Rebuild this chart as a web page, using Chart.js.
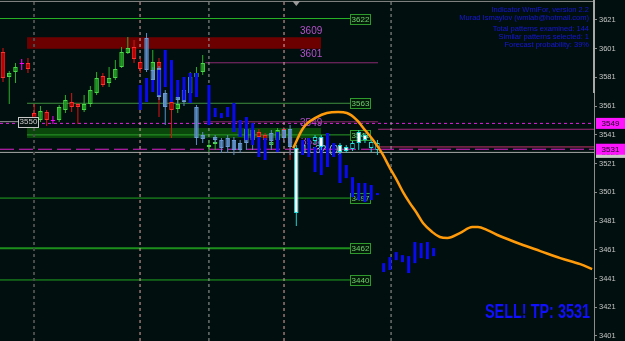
<!DOCTYPE html>
<html><head><meta charset="utf-8">
<script src="https://cdn.jsdelivr.net/npm/chart.js@4.4.1/dist/chart.umd.min.js"></script>
<style>html,body{margin:0;padding:0;background:#01100e;overflow:hidden}</style>
</head><body><canvas id="c" width="625" height="341"></canvas>
<script>
// ---------- DATA ----------
const yTicks = [3401,3421,3441,3461,3481,3501,3521,3541,3561,3581,3601,3621];
// real candles: [index, open, high, low, close]
const realCandles = [
[0,3598.7,3601.5,3577.8,3580.6],[1,3581.3,3585.5,3562.5,3584.1],[2,3584.8,3591.0,3577.1,3588.2],
[3,3590.3,3593.8,3586.2,3590.3],[4,3591.0,3594.5,3584.1,3586.8],[5,3556.2,3562.5,3549.9,3552.0],
[6,3551.3,3561.1,3549.9,3557.6],[7,3556.9,3558.3,3547.2,3551.3],[8,3550.6,3554.1,3548.5,3550.6],
[9,3551.3,3561.8,3549.9,3560.4],[10,3558.3,3568.7,3556.2,3565.3],[11,3563.9,3570.1,3556.9,3560.4],
[12,3562.5,3563.2,3548.5,3560.4],[13,3558.3,3568.7,3556.9,3562.5],[14,3562.5,3575.0,3560.4,3572.2],
[15,3570.1,3584.8,3568.7,3580.6],[16,3582.0,3584.1,3574.3,3575.7],[17,3577.1,3588.2,3574.3,3580.6],
[18,3580.6,3593.1,3579.2,3586.8],[19,3588.2,3602.2,3587.5,3598.7],[20,3598.0,3609.1,3597.3,3601.5],
[21,3602.2,3607.0,3591.0,3593.8],[22,3591.7,3594.5,3584.1,3586.8],[24,3585.5,3600.1,3581.3,3591.7],
[25,3591.7,3594.5,3553.4,3586.2],[27,3563.9,3565.3,3538.8,3558.3],[28,3559.0,3565.3,3556.2,3562.5],
[30,3570.1,3584.8,3566.6,3581.3],[31,3581.3,3588.2,3577.1,3584.1],[32,3584.8,3596.6,3582.7,3591.0],
[33,3532.5,3537.4,3529.0,3533.9],[34,3534.6,3537.4,3530.4,3536.0],[39,3540.9,3546.5,3538.8,3545.1],
[41,3543.0,3545.1,3536.0,3539.5],[42,3540.9,3542.3,3534.6,3537.4],[43,3533.9,3538.1,3531.8,3536.0],
[44,3537.4,3545.8,3535.3,3544.4],[45,3545.1,3546.5,3536.7,3539.5],[46,3539.5,3545.1,3523.5,3535.3]
];
// similar-pattern candles: [index, bodyTop, bodyBottom, high, low]
const patternCandles = [
[23,3608.4,3586.2,3611.9,3584.8],[24,3586.2,3579.2,3588.0,3577.1],[25,3587.5,3567.3,3589.0,3565.3],
[26,3570.1,3560.4,3572.2,3547.8],[28,3567.3,3565.3,3570.1,3562.5],[29,3572.2,3563.9,3575.0,3561.1],
[31,3560.4,3538.8,3561.8,3533.9],[32,3540.9,3538.1,3543.0,3535.3],[34,3539.5,3537.4,3540.9,3535.3],
[35,3537.4,3531.8,3538.8,3528.3],[36,3538.8,3532.5,3540.9,3528.3],[37,3537.4,3530.4,3539.5,3527.0],
[38,3535.3,3530.4,3537.4,3528.3],[39,3540.9,3535.3,3543.0,3530.4],[40,3544.4,3537.4,3545.8,3530.4],
[43,3542.3,3536.7,3544.4,3530.4],[45,3544.4,3538.8,3545.8,3536.0],[46,3545.1,3532.5,3547.8,3527.0]
];
// forecast bars: [index, high, low]
const forecastBars = [
[22,3575.7,3558.3],[23,3580.6,3563.9],[24,3579.2,3570.8],[25,3586.2,3568.7],[26,3600.1,3574.3],
[27,3593.1,3563.9],[28,3579.2,3567.3],[29,3581.3,3565.3],[30,3584.1,3563.2],[31,3584.1,3567.3],
[33,3575.7,3547.8],[34,3559.7,3553.4],[35,3556.2,3552.7],[36,3560.4,3553.4],[37,3563.2,3543.0],
[38,3551.3,3539.5],[39,3553.4,3537.4],[40,3549.2,3533.9],[41,3539.5,3525.6],[42,3538.8,3523.5],
[44,3543.0,3529.0],[48,3537.4,3527.0],[49,3538.8,3525.6],[50,3532.5,3515.1],[51,3538.8,3513.0],
[52,3542.3,3518.6],[53,3535.3,3525.6],[54,3528.3,3507.5],[55,3520.0,3510.9],[56,3511.6,3497.7],
[57,3507.5,3495.6],[58,3507.5,3494.2],[59,3506.1,3495.6],[60,3500.5,3499.1],[61,3451.7,3445.5],
[62,3455.9,3446.9],[63,3459.4,3453.8],[64,3457.3,3452.4],[65,3456.6,3444.8],[66,3466.4,3451.7],
[67,3465.7,3455.2],[68,3466.4,3454.5],[69,3462.2,3456.6]
];
// current candles: [index, open, high, low, close]
const currentCandles = [
[47,3531.8,3533.9,3477.5,3486.6],[50,3536.7,3541.0,3534.6,3539.5],[51,3539.5,3540.9,3530.4,3532.5],
[54,3533.9,3535.3,3527.7,3529.0],[55,3532.5,3533.9,3528.3,3529.7],[56,3531.1,3536.7,3529.7,3535.3],
[57,3543.0,3544.4,3530.4,3535.3],[58,3540.9,3542.3,3535.3,3537.4],[59,3531.8,3538.8,3529.0,3536.0],
[60,3530.4,3537.4,3527.0,3535.3]
];
// forecast curve: [index, price]
const forecastLine = [
[46.5,3531.8],[48.1,3545.8],[50.3,3553.4],[51.9,3556.2],[53.7,3556.9],[55.1,3556.2],[56.7,3551.3],
[58.0,3544.4],[59.3,3537.4],[60.7,3528.4],[62.0,3517.9],[63.1,3509.5],[64.1,3501.2],[65.2,3493.5],
[66.3,3486.6],[67.3,3479.6],[68.8,3473.3],[70.0,3469.9],[71.2,3469.2],[73.2,3472.6],[75.2,3476.8],
[76.1,3476.8],[77.6,3474.7],[79.6,3470.6],[82.9,3465.0],[86.1,3460.1],[89.3,3455.2],[92.5,3451.0],[94.4,3447.6]
];
const levels = [3622, 3563, 3541, 3497, 3462, 3440];
const levelStarts = [-0.5, 3.85, 3.85, -0.5, -0.5, -0.5];
const resistanceZone = [3601, 3609];
const supportZone = [3538.8, 3545.8];
const separators = [4.97, 21.96, 33.0, 45.03, 62.18];
const markerLevels = { dashTop: 3549, dashLong: 3531, gray: 3528.8, upper: 3591.2, mid: 3550.1, right1: 3544.9, right2: 3532.6, top: 3633.9, leftGray: 3550.2 };
const infoLines = ["Indicator WmiFor, version 2.2","Murad Ismaylov (wmlab@hotmail.com)","Total patterns examined: 144","Similar patterns selected: 1","Forecast probability: 39%"];
const signalText = "SELL! TP: 3531";

// ---------- CHART ----------
const BG = '#01100e';
const yMin = 3397.5, yMax = 3634.9, xMin = -0.48, xMax = 94.7;
function hline(v, a, b, color, width, dash, order) {
  return {type:'line', data:[{x:a,y:v},{x:b,y:v}], borderColor:color, borderWidth:width||1,
    borderDash:dash||[], pointRadius:0, fill:false, order:order||90};
}
function vline(x, color, width, dash) {
  return {type:'line', data:[{x:x,y:yMin},{x:x,y:yMax}], borderColor:color, borderWidth:width||1,
    borderDash:dash||[3,3], pointRadius:0, fill:false, order:80};
}
function candleColors(list, up, down, doji) {
  return list.map(r => r[1] === r[4] ? doji : (r[4] > r[1] ? up : down));
}
const ds = [];
// bands
ds.push({type:'line', data:[{x:3.85,y:resistanceZone[1]},{x:51,y:resistanceZone[1]}], fill:{value:resistanceZone[0]},
  backgroundColor:'#6c0000', borderColor:'transparent', pointRadius:0, order:100});
ds.push({type:'line', data:[{x:3.85,y:supportZone[1]},{x:51,y:supportZone[1]}], fill:{value:supportZone[0]},
  backgroundColor:'#0a470a', borderColor:'transparent', pointRadius:0, order:100});
// horizontal lines
const levelColors = ['#27b427','#3f8f3f','#2a9a2a','#22a622','#1c8e1c','#22a622'];
levels.forEach((v,k) => ds.push(hline(v, levelStarts[k], 55.6, levelColors[k], k===4?2:1)));
ds.push(hline(markerLevels.top, xMin, xMax, '#8a8a8a', 1));
ds.push(hline(markerLevels.upper, 32.4, 60.1, '#8a2a72', 1));
ds.push(hline(markerLevels.mid, 32.05, 60.1, '#8a2a6a', 1));
ds.push(hline(markerLevels.right1, 60.1, xMax, '#a02878', 1));
ds.push(hline(markerLevels.right2, 60.1, xMax, '#c83070', 1));
ds.push(hline(markerLevels.dashTop, xMin, xMax, '#e020e0', 1, [3,3]));
ds.push(hline(markerLevels.dashLong, xMin, xMax, '#e020d0', 1, [14,5]));
ds.push(hline(markerLevels.gray, xMin, xMax, '#a8a8a8', 1));
ds.push(hline(markerLevels.leftGray, xMin, 2.4, '#9a9a9a', 1));
// separators
const sepColors = ['#4a4a4a','#e0a8a8','#a0a0a0','#e0a8a8','#a0a0a0'];
separators.forEach((s,k) => ds.push(vline(s, sepColors[k], k===0?2:1)));
// real candles
ds.push({type:'bar', grouped:false, maxBarThickness:1, order:50,
  data: realCandles.map(r => ({x:r[0], y:[r[3], r[2]]})),
  backgroundColor: candleColors(realCandles, '#2fb02f', '#e01010', '#ff00ff')});
ds.push({type:'bar', grouped:false, maxBarThickness:5, order:49, borderWidth:1, borderSkipped:false, minBarLength:1,
  data: realCandles.map(r => ({x:r[0], y:[r[1], r[4]]})),
  backgroundColor: candleColors(realCandles, '#1e9a1e', '#c00000', '#ff00ff'),
  borderColor: candleColors(realCandles, '#48d848', '#ff3030', '#ff00ff')});
// pattern candles
ds.push({type:'bar', grouped:false, maxBarThickness:1, order:40,
  data: patternCandles.map(r => ({x:r[0], y:[r[4], r[3]]})), backgroundColor:'#5b8dcc'});
ds.push({type:'bar', grouped:false, maxBarThickness:5, order:39, borderWidth:1, borderSkipped:false, minBarLength:1,
  data: patternCandles.map(r => ({x:r[0], y:[r[2], r[1]]})), backgroundColor:'#5a8cc8', borderColor:'#6b9ad6'});
// forecast bars
ds.push({type:'bar', grouped:false, maxBarThickness:3, order:30, minBarLength:1,
  data: forecastBars.map(r => ({x:r[0], y:[r[2], r[1]]})), backgroundColor:'#0a0af2'});
// current candles
ds.push({type:'bar', grouped:false, maxBarThickness:1, order:20,
  data: currentCandles.map(r => ({x:r[0], y:[r[3], r[2]]})), backgroundColor:'#20d0d0'});
ds.push({type:'bar', grouped:false, maxBarThickness:5, order:19, borderWidth:1, borderSkipped:false, minBarLength:1,
  data: currentCandles.map(r => ({x:r[0], y:[r[1], r[4]]})),
  backgroundColor: currentCandles.map(r => r[1] > r[4] ? '#ffffff' : BG), borderColor:'#22e0e0'});
// forecast curve
ds.push({type:'line', data: forecastLine.map(p => ({x:p[0], y:p[1]})), borderColor:'#ff9a0a', borderWidth:2.5,
  pointRadius:0, fill:false, cubicInterpolationMode:'monotone', order:10});

function box(ctx, x, y, w, h, fill, stroke) {
  ctx.fillStyle = fill; ctx.fillRect(x, y, w, h);
  if (stroke) { ctx.strokeStyle = stroke; ctx.lineWidth = 1; ctx.strokeRect(Math.round(x)+0.5, Math.round(y)+0.5, w-1, h-1); }
}
function text(ctx, s, x, y, font, color, align) {
  ctx.font = font; ctx.fillStyle = color; ctx.textAlign = align || 'left'; ctx.textBaseline = 'middle'; ctx.fillText(s, x, y);
}
const deco = {
  id:'deco',
  beforeDraw(chart) { const c = chart.ctx; c.save(); c.fillStyle = BG; c.fillRect(0,0,chart.width,chart.height); c.restore(); },
  beforeDatasetsDraw(chart) {
    const c = chart.ctx, xs = chart.scales.x, ys = chart.scales.y;
    c.save();
    const lx = Math.round(xs.getPixelForValue(55.6));
    levels.forEach(v => {
      const py = Math.round(ys.getPixelForValue(v));
      box(c, lx, py-5, 21, 11, '#041a08', '#2e9a2e');
      text(c, String(v), lx+10.5, py+0.5, '8px "Liberation Sans"', '#72d072', 'center');
    });
    const vx = xs.getPixelForValue(47.6);
    const violet = '#b452cc', vf = '10px "Liberation Sans"';
    text(c, String(resistanceZone[1]), vx, ys.getPixelForValue(resistanceZone[1]) - 6, vf, violet);
    text(c, String(resistanceZone[0]), vx, ys.getPixelForValue(resistanceZone[0]) + 5.5, vf, violet);
    text(c, String(markerLevels.dashTop), vx, ys.getPixelForValue(markerLevels.dashTop), vf, violet);
    text(c, '3538', vx + 1, ys.getPixelForValue(3538) + 3, vf, violet);
    text(c, '11:32 (0)', vx + 2, ys.getPixelForValue(3538) + 11.5, vf, '#9ccfe2');
    c.restore();
  },
  afterDatasetsDraw(chart) {
    const c = chart.ctx, xs = chart.scales.x, ys = chart.scales.y;
    c.save();
    // left gray label
    const gy = ys.getPixelForValue(markerLevels.leftGray);
    box(c, xs.getPixelForValue(2.4), gy-5, 21, 11, '#06120f', '#c8c8c8');
    text(c, '3550', xs.getPixelForValue(2.4)+10.5, gy+0.5, '8px "Liberation Sans"', '#c8c8c8', 'center');
    // info block
    const ifont = '7.5px "Liberation Sans"', blue = '#1616dc';
    const iy = [10, 17.5, 29, 37, 44.5];
    infoLines.forEach((s,k) => text(c, s, 589, iy[k], ifont, blue, 'right'));
    // signal
    c.font = 'bold 20px "Liberation Sans Narrow", "Liberation Sans", sans-serif';
    const w = c.measureText(signalText).width;
    c.translate(485, 312); c.scale(105 / w, 1);
    c.fillStyle = '#1010ff'; c.textAlign = 'left'; c.textBaseline = 'middle';
    c.fillText(signalText, 0, 0);
    c.restore();
  },
  afterDraw(chart) {
    const c = chart.ctx, xs = chart.scales.x, ys = chart.scales.y, ca = chart.chartArea;
    c.save();
    c.fillStyle = '#a8a8a8'; c.fillRect(ca.right - 1, 0, 2, 93);
    // top marker
    const tx = xs.getPixelForValue(47);
    c.fillStyle = '#9a9a9a'; c.beginPath(); c.moveTo(tx-4, 1); c.lineTo(tx+4, 1); c.lineTo(tx, 6); c.closePath(); c.fill();
    // right axis price tags
    const rx = ca.right + 2;
    const g = ys.getPixelForValue(markerLevels.gray);
    box(c, rx, g-4.5, 29, 10, '#c8c8c8'); text(c, '3529', rx+14.5, g+0.5, '8px "Liberation Sans"', '#303030', 'center');
    [markerLevels.dashTop, markerLevels.dashLong].forEach(v => {
      const py = ys.getPixelForValue(v);
      box(c, rx, py-5.5, 29, 11, '#ff14ff');
      text(c, String(v), rx+14.5, py+0.5, '8px "Liberation Sans"', '#1a001a', 'center');
    });
    c.restore();
  }
};

new Chart(document.getElementById('c'), {
  type:'line',
  data:{ datasets: ds },
  options:{
    responsive:false, animation:false, devicePixelRatio:1,
    layout:{padding:0},
    plugins:{legend:{display:false}, tooltip:{enabled:false}},
    scales:{
      x:{type:'linear', min:xMin, max:xMax, display:false, offset:false},
      y:{type:'linear', position:'right', min:yMin, max:yMax,
        afterBuildTicks: s => { s.ticks = yTicks.map(v => ({value:v})); },
        afterFit: s => { s.width = 31; s.paddingTop = 0; s.paddingBottom = 0; },
        grid:{drawOnChartArea:false, drawTicks:true, tickLength:3, color:'#8c8c8c'},
        border:{display:true, color:'#8c8c8c'},
        ticks:{color:'#c4c4c4', font:{family:'Liberation Sans', size:7.5}, padding:2, autoSkip:false, callback: v => String(v)}
      }
    }
  },
  plugins:[deco]
});
</script></body></html>
